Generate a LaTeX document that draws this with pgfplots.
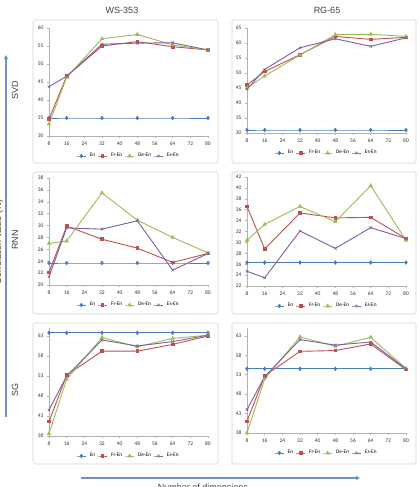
\documentclass[border=0pt]{standalone}
\usepackage{fontspec}
\setmainfont{Carlito}
\newfontfamily\arialf{Liberation Sans}
\usepackage{pgfplots}
\usepackage{pgfplotstable}
\pgfplotsset{compat=1.18}
\usetikzlibrary{arrows.meta}

\definecolor{enc}{HTML}{4A7EBB}
\definecolor{frc}{HTML}{C0504D}
\definecolor{dec}{HTML}{9BBB59}
\definecolor{esc}{HTML}{7D60A0}
\definecolor{arrc}{HTML}{6F93C6}

\pgfplotstableread{
x en fr de es
8 35.0 34.7 33.3 43.7
16 35.0 46.6 46.3 46.6
32 35.0 55.0 57.0 55.5
48 35.0 56.2 58.2 55.8
64 35.0 54.8 55.3 55.9
80 35.0 53.9 53.9 53.9
}\tA
\pgfplotstableread{
x en fr de es
8 31.0 46.0 45.0 44.6
16 31.0 50.5 49.0 51.2
32 31.0 56.1 56.0 58.4
48 31.0 62.2 62.8 61.4
64 31.0 61.2 62.9 58.9
80 31.0 61.9 62.2 61.7
}\tB
\pgfplotstableread{
x en fr de es
8 23.7 22.1 27.0 21.4
16 23.7 29.9 27.4 29.6
32 23.7 27.7 35.5 29.4
48 23.7 26.2 30.9 30.8
64 23.7 23.8 28.0 22.5
80 23.7 25.3 25.4 25.3
}\tC
\pgfplotstableread{
x en fr de es
8 26.3 36.6 30.4 24.7
16 26.3 28.8 33.3 23.5
32 26.3 35.4 36.6 32.1
48 26.3 34.5 33.8 28.9
64 26.3 34.6 40.4 32.7
80 26.3 30.7 30.4 30.7
}\tD
\pgfplotstableread{
x en fr de es
8 63.8 41.6 38.6 44.5
16 63.8 53.2 52.2 53.0
32 63.8 59.2 62.6 62.0
48 63.8 59.2 60.3 60.5
64 63.8 60.9 62.4 61.6
80 63.8 63.0 63.2 63.2
}\tE
\pgfplotstableread{
x en fr de es
8 54.5 41.0 38.0 44.0
16 54.5 52.7 51.9 52.5
32 54.5 59.0 62.7 62.0
48 54.5 59.2 60.3 60.6
64 54.5 60.9 62.6 61.4
80 54.5 54.3 54.6 54.5
}\tF

\pgfplotsset{
  panel/.style={
    scale only axis, width=159pt,
    xmin=8, xmax=80, xtick={8,16,...,80},
    axis lines=left,
    axis line style={-, black!30, line width=0.5pt},
    tick align=outside, major tick length=2pt,
    tick style={black!30, line width=0.4pt},
    ticklabel style={font=\fontsize{5.5}{6}\selectfont, text=black!80},
    /pgf/number format/assume math mode=true,
    legend columns=4,
    legend style={draw=none, fill=none, at={(0.5,0)}, anchor=center, yshift=-20pt,
      font=\fontsize{5.3}{6}\selectfont, column sep=1.5pt, inner sep=0pt,
      /tikz/every even column/.append style={column sep=0.5pt}},
    legend image code/.code={\draw[mark repeat=2,mark phase=2,##1] plot coordinates {(0pt,0pt) (4.5pt,0pt) (9pt,0pt)};},
    clip=false,
    every axis plot/.append style={line width=0.9pt},
  },
  sen/.style={color=enc, mark=diamond*, mark size=1.6pt, mark options={solid}},
  sfr/.style={color=frc, mark=square*, mark size=1.3pt, mark options={solid}},
  sde/.style={color=dec, mark=triangle*, mark size=1.7pt, mark options={solid}},
  ses/.style={color=esc, mark=x, mark size=1.8pt, mark options={solid, line width=0.6pt}},
}

\newcommand{\series}[1]{%
  \addplot[sen] table[x=x,y=en] {#1}; \addlegendentry{En}
  \addplot[sfr] table[x=x,y=fr] {#1}; \addlegendentry{Fr-En}
  \addplot[sde] table[x=x,y=de] {#1}; \addlegendentry{De-En}
  \addplot[ses] table[x=x,y=es] {#1}; \addlegendentry{Es-En}
}

\begin{document}
\begin{tikzpicture}
\useasboundingbox (0pt,0pt) rectangle (418pt,487pt);

% chart area borders
\foreach \yb/\yt in {324/467, 173/315, 23/164}{
  \draw[black!18, line width=0.6pt, rounded corners=1.5pt] (33pt,\yb pt) rectangle (218pt,\yt pt);
  \draw[black!18, line width=0.6pt, rounded corners=1.5pt] (232pt,\yb pt) rectangle (416pt,\yt pt);
}

% row 1
\begin{axis}[panel, at={(49pt,351pt)}, anchor=south west, height=108pt,
  ymin=30, ymax=60, ytick={30,35,...,60}]
\series{\tA}
\end{axis}
\begin{axis}[panel, at={(247pt,354pt)}, anchor=south west, height=105pt,
  ymin=30, ymax=65, ytick={30,35,...,65}]
\series{\tB}
\end{axis}
% row 2
\begin{axis}[panel, at={(49pt,202pt)}, anchor=south west, height=107pt,
  ymin=20, ymax=38, ytick={20,22,...,38}]
\series{\tC}
\end{axis}
\begin{axis}[panel, at={(247pt,201pt)}, anchor=south west, height=109pt,
  ymin=22, ymax=42, ytick={22,24,...,42}]
\series{\tD}
\end{axis}
% row 3
\begin{axis}[panel, at={(49pt,51pt)}, anchor=south west, height=108pt,
  ymin=38, ymax=65, ytick={38,43,...,63}]
\series{\tE}
\end{axis}
\begin{axis}[panel, at={(247pt,54pt)}, anchor=south west, height=105pt,
  ymin=38, ymax=65, ytick={38,43,...,63}]
\series{\tF}
\end{axis}

% titles
\node[font=\arialf\fontsize{9}{10}\selectfont, text=black!75] at (122pt,477pt) {WS-353};
\node[font=\arialf\fontsize{9}{10}\selectfont, text=black!75] at (327pt,477pt) {RG-65};

% row labels
\node[rotate=90, font=\arialf\fontsize{9}{10}\selectfont, text=black!75] at (15pt,397pt) {SVD};
\node[rotate=90, font=\arialf\fontsize{9}{10}\selectfont, text=black!75] at (15pt,247pt) {RNN};
\node[rotate=90, font=\arialf\fontsize{9}{10}\selectfont, text=black!75] at (15pt,97pt) {SG};

% arrows
\draw[arrc, line width=1.2pt, -{Triangle[length=4pt, width=4pt]}] (6pt,70pt) -- (6pt,432pt);
\draw[arrc, line width=1.2pt, -{Triangle[length=4pt, width=4pt]}] (81pt,9pt) -- (360pt,9pt);

\node[rotate=90, anchor=base, inner sep=0pt, font=\arialf\fontsize{9}{10}\selectfont, text=black!75] at (1pt,245pt) {Correlation value (\%)};
\node[anchor=north, inner sep=0pt, font=\arialf\fontsize{9}{10}\selectfont, text=black!75] at (203pt,3.5pt) {Number of dimensions};
\end{tikzpicture}
\end{document}
